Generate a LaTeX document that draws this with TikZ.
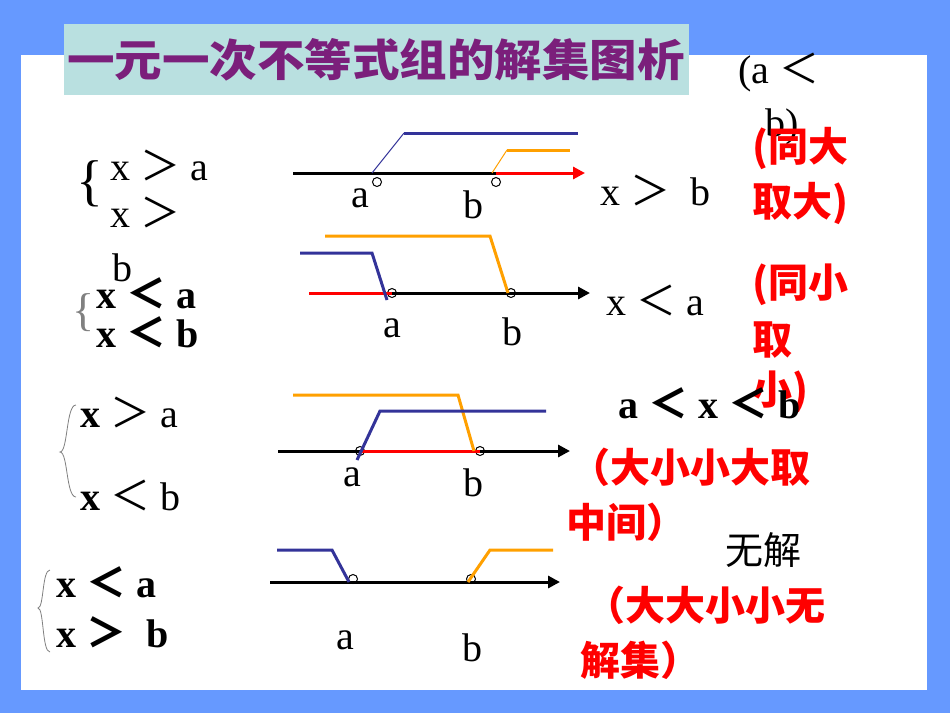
\documentclass[tikz,border=0pt]{standalone}
\usepackage{fontspec}
\setmainfont{Liberation Serif}
\newfontfamily\cjk{Noto Sans CJK SC}
\newcommand{\lsym}{\ {\cjk ＜}}
\newcommand{\gsym}{\ {\cjk ＞}}
\usetikzlibrary{arrows.meta}
\definecolor{bgblue}{HTML}{6699FF}
\definecolor{titlebg}{HTML}{B9E0E0}
\definecolor{titlefg}{HTML}{7B1F7B}
\definecolor{ornge}{HTML}{FFA000}
\definecolor{navy}{HTML}{333399}
\tikzset{
  axis/.style={line width=3pt,black},
  redseg/.style={line width=3pt,red},
  bl/.style={line width=3pt,navy},
  org/.style={line width=3pt,ornge},
  hole/.style={circle,draw=black,fill=white,inner sep=0pt,minimum size=9pt,line width=1pt},
  lbl/.style={font=\fontsize{40}{42}\selectfont,inner sep=0pt},
  eq/.style={font=\fontsize{40}{42}\selectfont,inner sep=0pt,anchor=west},
  beq/.style={font=\bfseries\fontsize{40}{42}\selectfont,inner sep=0pt,anchor=west},
  rtxt/.style={font=\cjk\bfseries\fontsize{40}{44}\selectfont,text=red,inner sep=0pt,anchor=west},
  arr/.style={-{Triangle[length=12pt,width=12pt]}}
}
\begin{document}
\begin{tikzpicture}[x=1pt,y=-1pt]
\useasboundingbox (0,0) rectangle (950,713);
\fill[bgblue] (0,0) rectangle (950,713);
\fill[white] (21,55) rectangle (927,690);
\fill[titlebg] (64,24) rectangle (689,95);
\node[font=\cjk\bfseries\fontsize{44}{46}\selectfont,text=titlefg,inner sep=0pt] (title) at (376,60) {\scalebox{1.08}[1]{一元一次不等式组的解集图析}};
\node[eq] (ab1) at (738,72) {(a\lsym};
\node[eq] (ab2) at (765,127) {b)};
% row 1
\coordinate (r1s) at (293,173); \coordinate (r1e) at (585,173);
\node[hole] (a1) at (377,182) {}; \node[hole] (b1) at (496,182) {};
\draw[axis] (r1s) -- (496,173);
\draw[redseg,arr] (496,173) -- (r1e);
\draw[navy,line width=1pt] (372,173) -- (404,133);
\draw[bl] (404,133) -- (578,133);
\draw[ornge,line width=1pt] (492,173) -- (507,150);
\draw[org] (507,150) -- (570,150);
\node[lbl] (la1) at (360,198) {a}; \node[lbl] (lb1) at (473,205) {b};
\node[eq] (s1) at (600,190) {x\gsym\ \ b};
\node[rtxt] (c1a) at (752,148) {(同大};
\node[rtxt] (c1b) at (752,203) {取大)};
\node[font=\fontsize{56}{56}\selectfont,inner sep=0pt] (br1) at (90,184) {\{};
\node[eq] (e1a) at (110,165) {x\gsym\ a};
\node[eq] (e1b) at (110,212) {x\gsym};
\node[eq] (e1c) at (112,268) {b};
% row 2
\node[hole] (a2) at (392,293) {}; \node[hole] (b2) at (511,293) {};
\draw[redseg] (309,293) -- (392,293);
\draw[axis,arr] (392,293) -- (590,293);
\draw[bl] (300,253) -- (372,253) -- (387,300);
\draw[org] (325,236) -- (490,236) -- (508,293);
\node[lbl] (la2) at (392,328) {a}; \node[lbl] (lb2) at (512,332) {b};
\node[eq] (s2) at (606,300) {x\lsym\ a};
\node[rtxt] (c2a) at (752,285) {(同小};
\node[rtxt] (c2b) at (752,340) {取};
\node[rtxt] (c2c) at (752,392) {小)};
\node[font=\fontsize{46}{46}\selectfont,inner sep=0pt,gray] (br2) at (84,313) {\{};
\node[beq] (e2a) at (96,293) {x\lsym\ a};
\node[beq] (e2b) at (96,332) {x\lsym\ b};
% row 3
\node[hole] (a3) at (360,451) {}; \node[hole] (b3) at (480,451) {};
\draw[axis,arr] (278,451) -- (570,451);
\draw[redseg] (360,451) -- (480,451);
\draw[org] (293,395) -- (458,395) -- (474,451);
\draw[bl] (357,460) -- (380,411) -- (546,411);
\node[lbl] (la3) at (352,477) {a}; \node[lbl] (lb3) at (473,483) {b};
\node[beq] (s3) at (618,403) {a\lsym\ x\lsym\ b};
\node[rtxt] (c3a) at (570,467) {（大小小大取};
\node[rtxt] (c3b) at (566,522) {中间）};
\draw[gray,line width=0.8pt] (76,405) .. controls (66,405) and (68,452) .. (60,452) .. controls (68,452) and (66,497) .. (76,497);
\node[eq] (e3a) at (80,412) {\textbf{x}\gsym\ a};
\node[eq] (e3b) at (80,495) {\textbf{x}\lsym\ b};
% row 4
\node[hole] (a4) at (353,579) {}; \node[hole] (b4) at (471,579) {};
\draw[axis,arr] (270,582) -- (560,582);
\draw[bl] (277,550) -- (332,550) -- (349,582);
\draw[org] (468,582) -- (490,550) -- (553,550);
\node[lbl] (la4) at (345,640) {a}; \node[lbl] (lb4) at (472,648) {b};
\node[font=\cjk\fontsize{38}{40}\selectfont,inner sep=0pt] (s4) at (763,550) {无解};
\node[rtxt] (c4a) at (585,605) {（大大小小无};
\node[rtxt] (c4b) at (580,660) {解集）};
\draw[gray,line width=0.8pt] (50,570) .. controls (42,570) and (44,608) .. (38,608) .. controls (44,608) and (42,652) .. (50,652);
\node[beq] (e4a) at (56,582) {x\lsym\ a};
\node[beq] (e4b) at (56,632) {x\gsym\ \ b};
\end{tikzpicture}
\end{document}
